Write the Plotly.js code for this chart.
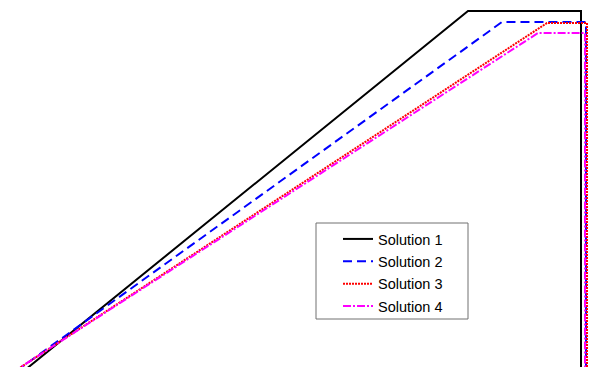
<!DOCTYPE html>
<html>
<head>
<meta charset="utf-8">
<script src="https://cdn.plot.ly/plotly-3.0.1.min.js"></script>
<style>html,body{margin:0;padding:0;background:#fff}#chart{width:595px;height:367px}</style>
</head>
<body>
<div id="chart"></div>
<script>
// Series values (x, y)
const names = ["Solution 1", "Solution 2", "Solution 3", "Solution 4"];
const s1x = [0.04, 4.68, 5.81, 5.81];
const s1y = [-0.20, 3.56, 3.56, -0.20];
const s2x = [-0.06, 5.02, 5.86, 5.86];
const s2y = [-0.20, 3.45, 3.45, -0.20];
const s3x = [-0.095, 5.47, 5.87, 5.87];
const s3y = [-0.20, 3.44, 3.44, -0.20];
const s4x = [-0.10, 5.38, 5.85, 5.85];
const s4y = [-0.20, 3.34, 3.34, -0.20];

const traces = [
  {x: s1x, y: s1y, name: names[0], legendgroup: "g1", line: {color: "#000000", width: 2}},
  {x: s2x, y: s2y, name: names[1], legendgroup: "g2", line: {color: "#0000ff", width: 2, dash: "9px,5px"}},
  {x: s3x, y: s3y, name: names[2], legendgroup: "g3", line: {color: "#ff0000", width: 2, dash: "2px,1px"}},
  {x: s4x, y: s4y, name: names[3], legendgroup: "g4", line: {color: "#ff00ff", width: 2, dash: "8px,2px,2px,2px"}}
].map(t => Object.assign({type: "scatter", mode: "lines"}, t));

const layout = {
  width: 595, height: 367,
  margin: {l: 0, r: 0, t: 0, b: 0},
  paper_bgcolor: "#ffffff", plot_bgcolor: "#ffffff",
  xaxis: {range: [0, 5.95], visible: false, fixedrange: true},
  yaxis: {range: [0, 3.67], visible: false, fixedrange: true},
  showlegend: true,
  legend: {
    x: 338/595, xanchor: "left", y: (367-223)/367, yanchor: "top",
    bgcolor: "rgba(0,0,0,0)", borderwidth: 0,
    font: {family: "Liberation Sans, Arial, sans-serif", size: 14.5, color: "#000"},
    traceorder: "grouped", tracegroupgap: 0.5, itemwidth: 30
  },
  shapes: [{
    type: "rect", xref: "paper", yref: "paper",
    x0: 316/595, x1: 468/595, y0: (367-319)/367, y1: (367-223)/367,
    line: {color: "#707070", width: 1}, fillcolor: "#ffffff", layer: "above"
  }]
};

Plotly.newPlot("chart", traces, layout, {staticPlot: true, displayModeBar: false});
</script>
</body>
</html>
